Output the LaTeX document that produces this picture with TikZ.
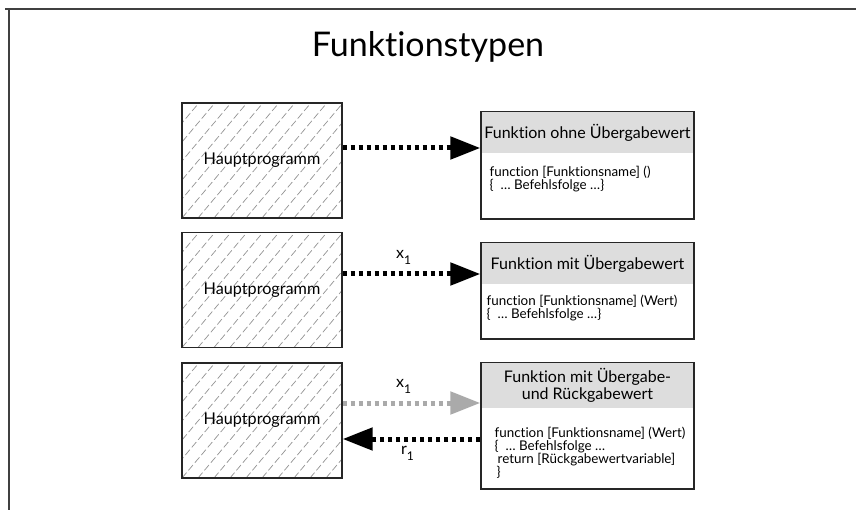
\documentclass[tikz,border=0pt]{standalone}
\usepackage{fontspec}
\setmainfont{Lato}[Ligatures=NoCommon]
\usetikzlibrary{arrows.meta}

\definecolor{headgray}{RGB}{221,221,221}
\definecolor{arrowgray}{RGB}{170,170,170}

\newcommand{\lowsub}[1]{\raisebox{-0.7ex}{\fontsize{12}{12}\selectfont #1}}

\tikzset{
    hauptbox/.style={draw=black!85, line width=1.3pt, minimum width=160pt, minimum height=115pt,
        inner sep=0pt, font=\fontsize{16.2}{18}\selectfont,
        path picture={
            \foreach \k in {-112,-96,...,160}
                \draw[gray!85, line width=0.7pt, dash pattern=on 7pt off 3pt]
                    ([xshift=\k pt]path picture bounding box.south west) -- ++(160pt,190pt);
        }},
    funcbox/.style={draw=black!85, line width=1.3pt, minimum width=213pt, inner sep=0pt},
    funchead/.style={fill=headgray, minimum width=211.7pt, inner sep=0pt, anchor=north,
        align=center, font=\fontsize{16}{17.5}\selectfont},
    code/.style={font=\fontsize{13.4}{13}\selectfont, align=left, inner sep=0pt, anchor=north west},
    flowarrow/.style={line width=5pt, dash pattern=on 4.5pt off 3.5pt,
        -{Triangle[length=30pt,width=22pt]}},
    varlabel/.style={font=\fontsize{16}{16}\selectfont, inner sep=1pt, text=black}
}

\begin{document}
\begin{tikzpicture}[x=1pt, y=-1pt]
    \useasboundingbox (0,0) rectangle (856,510);

    % Rahmen und Titel
    \draw[black!75, line width=1.4pt] (5,9) -- (856,9);
    \draw[black!75, line width=1.2pt] (9,9) -- (9,510);
    \node[font=\fontsize{34}{37}\selectfont] (title) at (428,47) {Funktionstypen};

    % Hauptprogramme
    \node[hauptbox] (haupt1) at (262,160.5) {Hauptprogramm};
    \node[hauptbox] (haupt2) at (262,290) {Hauptprogramm};
    \node[hauptbox] (haupt3) at (262,420.5) {Hauptprogramm};

    % Funktion ohne Uebergabewert
    \node[funcbox, minimum height=107pt] (func1) at (587.5,165.5) {};
    \node[funchead, minimum height=40.4pt] (head1) at ([yshift=-0.65pt]func1.north) {Funktion ohne Übergabewert};
    \node[code] (body1) at ([xshift=8pt,yshift=-13pt]head1.south west)
        {function [Funktionsname] ()\\\{ \ \ldots{} Befehlsfolge \ldots\}};

    % Funktion mit Uebergabewert
    \node[funcbox, minimum height=96pt] (func2) at (587.5,291) {};
    \node[funchead, minimum height=40.4pt] (head2) at ([yshift=-0.65pt]func2.north) {Funktion mit Übergabewert};
    \node[code] (body2) at ([xshift=5pt,yshift=-11pt]head2.south west)
        {function [Funktionsname] (Wert)\\\{ \ \ldots{} Befehlsfolge \ldots\}};

    % Funktion mit Uebergabe- und Rueckgabewert
    \node[funcbox, minimum height=126pt] (func3) at (587.5,426) {};
    \node[funchead, minimum height=44.4pt] (head3) at ([yshift=-0.65pt]func3.north)
        {Funktion mit Übergabe-\\und Rückgabewert};
    \node[code] (body3) at ([xshift=13pt,yshift=-19pt]head3.south west)
        {function [Funktionsname] (Wert)\\\{ \ \ldots{} Befehlsfolge \ldots\\
         \hspace*{3pt}return [Rückgabewertvariable]\\\hspace*{2pt}\}};

    % Aufrufe
    \draw[flowarrow] ([yshift=12.5pt]haupt1.east) -- ([yshift=12.5pt]haupt1.east -| func1.west);
    \draw[flowarrow] ([yshift=16pt]haupt2.east) -- ([yshift=16pt]haupt2.east -| func2.west)
        node[varlabel, midway, above=6pt, xshift=-8pt] {x\lowsub{1}};
    \draw[flowarrow, arrowgray] ([yshift=17.5pt]haupt3.east) -- ([yshift=17.5pt]haupt3.east -| func3.west)
        node[varlabel, midway, above=6pt, xshift=-8pt] {x\lowsub{1}};
    \draw[flowarrow] ([yshift=-18.5pt]haupt3.east -| func3.west) -- ([yshift=-18.5pt]haupt3.east)
        node[varlabel, midway, below=4pt, xshift=-4pt] {r\lowsub{1}};
\end{tikzpicture}
\end{document}
